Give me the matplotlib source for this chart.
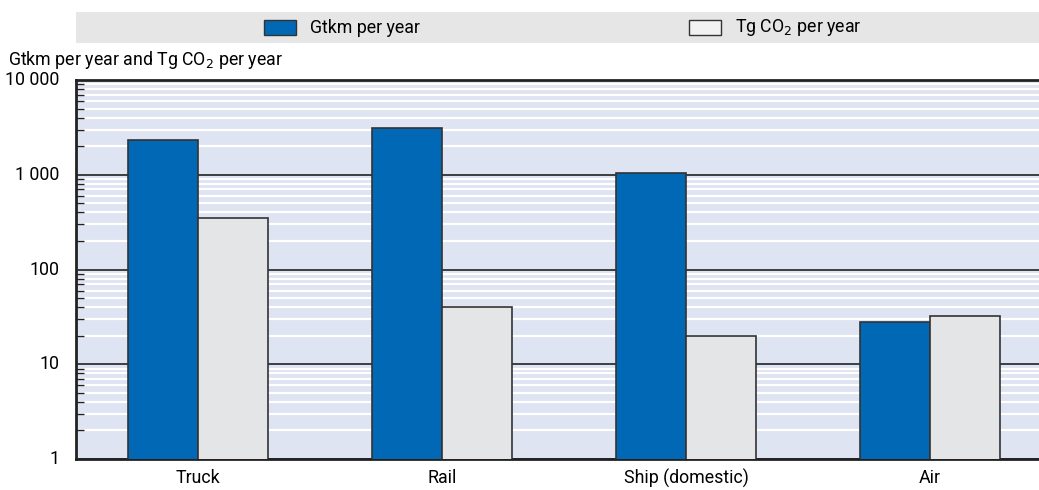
import matplotlib.pyplot as plt
import matplotlib.ticker as mticker
from matplotlib.patches import Rectangle
import numpy as np

plt.rcParams['font.family'] = ['Roboto', 'DejaVu Sans']

# Data
modes = ['Truck', 'Rail', 'Ship (domestic)', 'Air']
gtkm = [2300, 3100, 1050, 28]
tg_co2 = [350, 40, 20, 32]
series_labels = ['Gtkm per year', 'Tg CO$_2$ per year']
ytick_vals = [1, 10, 100, 1000, 10000]
ytick_labels = ['1', '10', '100', '1 000', '10 000']

blue = '#0068b5'
light = '#e4e5e7'
bg = '#dfe4f3'
fs = 12.8

W, H = 1039, 490
fig = plt.figure(figsize=(W / 100, H / 100), dpi=100)
ax = fig.add_axes([76 / W, (H - 459) / H, (W - 76) / W, (459 - 80) / H])
ax.set_facecolor(bg)

x = np.arange(len(modes))
w = 0.287
ax.bar(x - w / 2, gtkm, w, color=blue, edgecolor='#333333', linewidth=1.2, zorder=3)
ax.bar(x + w / 2, tg_co2, w, color=light, edgecolor='#333333', linewidth=1.2, zorder=3)

ax.set_yscale('log')
ax.set_ylim(1, 10000)
ax.set_xlim(-0.5, 3.447)
ax.set_yticks(ytick_vals)
ax.set_yticklabels(ytick_labels)
ax.yaxis.set_minor_locator(mticker.LogLocator(base=10, subs=np.arange(2, 10)))
ax.yaxis.set_minor_formatter(mticker.NullFormatter())
ax.grid(True, which='minor', axis='y', color='white', linewidth=1.6, zorder=1)
ax.grid(True, which='major', axis='y', color='#222222', linewidth=1.2, zorder=2)
ax.set_axisbelow(True)

ax.tick_params(axis='y', which='major', length=0, labelsize=fs, pad=12)
ax.tick_params(axis='y', which='minor', direction='in', length=6, width=1, color='#222222')
ax.tick_params(axis='x', length=0, labelsize=fs, pad=7)
ax.set_xticks(x)
ax.set_xticklabels(modes)
for lab in ax.get_yticklabels():
    lab.set_verticalalignment('center')

for s in ['left', 'bottom', 'top']:
    ax.spines[s].set_linewidth(2)
    ax.spines[s].set_color('#222222')
ax.spines['right'].set_visible(False)

# axis title
fig.text(8 / W, 1 - 60 / H, 'Gtkm per year and Tg CO$_2$ per year', fontsize=fs, va='center', ha='left')

# legend band
fig.patches.append(Rectangle((76 / W, 1 - 43 / H), (W - 76) / W, 31 / H,
                             transform=fig.transFigure, facecolor='#e6e6e6', edgecolor='none'))
fig.patches.append(Rectangle((264 / W, 1 - 35 / H), 32 / W, 15 / H, transform=fig.transFigure,
                             facecolor=blue, edgecolor='#333333', linewidth=1))
fig.text(310 / W, 1 - 28 / H, series_labels[0], fontsize=fs, va='center', ha='left')
fig.patches.append(Rectangle((689 / W, 1 - 35 / H), 32 / W, 15 / H, transform=fig.transFigure,
                             facecolor='#f2f2f2', edgecolor='#333333', linewidth=1))
fig.text(735 / W, 1 - 28 / H, series_labels[1], fontsize=fs, va='center', ha='left')

fig.savefig('out.png', dpi=100)
